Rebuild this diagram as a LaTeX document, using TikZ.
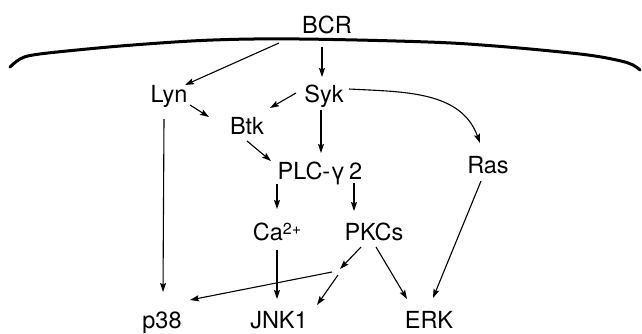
\documentclass[tikz,border=0pt]{standalone}
\usepackage{fontspec}
\setmainfont{TeX Gyre Heros}
\usetikzlibrary{arrows.meta,calc}
\begin{document}
\begin{tikzpicture}[x=1pt,y=-1pt,
  lbl/.style={anchor=base,inner sep=0pt,font=\fontsize{23.5}{28}\selectfont},
  arr/.style={line width=1.1pt,-{Stealth[length=9pt,width=6pt,inset=1.5pt]}},
  membrane/.style={line width=3pt,line cap=round}]
\useasboundingbox (0,0) rectangle (642,333);

% cell membrane
\draw[membrane] plot[smooth,tension=0.6] coordinates
  {(10,67) (20,59) (33,55) (67,51) (133,45) (213,40) (300,39) (428,42)
   (495,46) (561,52) (595,56) (621,61) (633,65) (640,70)};

% signalling molecules
\node[lbl] (bcr) at (327,33) {BCR};
\node[lbl] (lyn) at (169,102) {Lyn};
\node[lbl] (syk) at (324,102) {Syk};
\node[lbl] (btk) at (247,134) {Btk};
\node[lbl] (plc) at (320,179) {PLC-γ\,2};
\node[lbl] (ras) at (488,173) {Ras};
\node[lbl] (ca)  at (277,240) {Ca\raisebox{6pt}{\fontsize{16}{16}\selectfont 2+}};
\node[lbl] (pkc) at (374,240) {PKCs};
\node[lbl] (p38) at (162,328) {p38};
\node[lbl] (jnk) at (279,328) {JNK1};
\node[lbl] (erk) at (429,328) {ERK};
\coordinate (hub) at (340,269);

% connections
\draw[arr] ($(bcr.base)+(-48,10)$) -- ($(lyn.base)+(16,-17)$);
\draw[arr] ($(bcr.base)+(-5,14)$)  -- ($(syk.base)+(-2,-25)$);
\draw[arr] ($(lyn.base)+(21,3)$)   -- ($(btk.base)+(-38,-17)$);
\draw[arr] ($(syk.base)+(-28,-9)$) -- ($(btk.base)+(23,-26)$);
\draw[arr] ($(syk.base)+(-3,8)$)   -- ($(plc.base)+(1,-26)$);
\draw[arr] ($(btk.base)+(0,7)$)    -- ($(plc.base)+(-49,-18)$);
\draw[arr] ($(syk.base)+(25,-13)$) to[out=-3,in=110] ($(ras.base)+(-8,-30)$);
\draw[arr] ($(lyn.base)+(-5,17)$)  -- ($(p38.base)+(1,-36)$);
\draw[arr] ($(plc.base)+(-43,5)$)  -- ($(ca.base)+(0,-31)$);
\draw[arr] ($(plc.base)+(34,4)$)   -- ($(pkc.base)+(-20,-29)$);
\draw[arr] ($(ca.base)+(0,10)$)    -- ($(jnk.base)+(-2,-29)$);
\draw[arr] ($(pkc.base)+(-13,7)$)  -- (hub);
\draw[arr] ($(hub)+(-8,3)$)        -- ($(p38.base)+(28,-28)$);
\draw[arr] ($(hub)+(-2,6)$)        -- ($(jnk.base)+(38,-23)$);
\draw[arr] ($(pkc.base)+(2,7)$)    -- ($(erk.base)+(-22,-29)$);
\draw[arr] ($(ras.base)+(-7,8)$)   -- ($(erk.base)+(4,-30)$);
\end{tikzpicture}
\end{document}
